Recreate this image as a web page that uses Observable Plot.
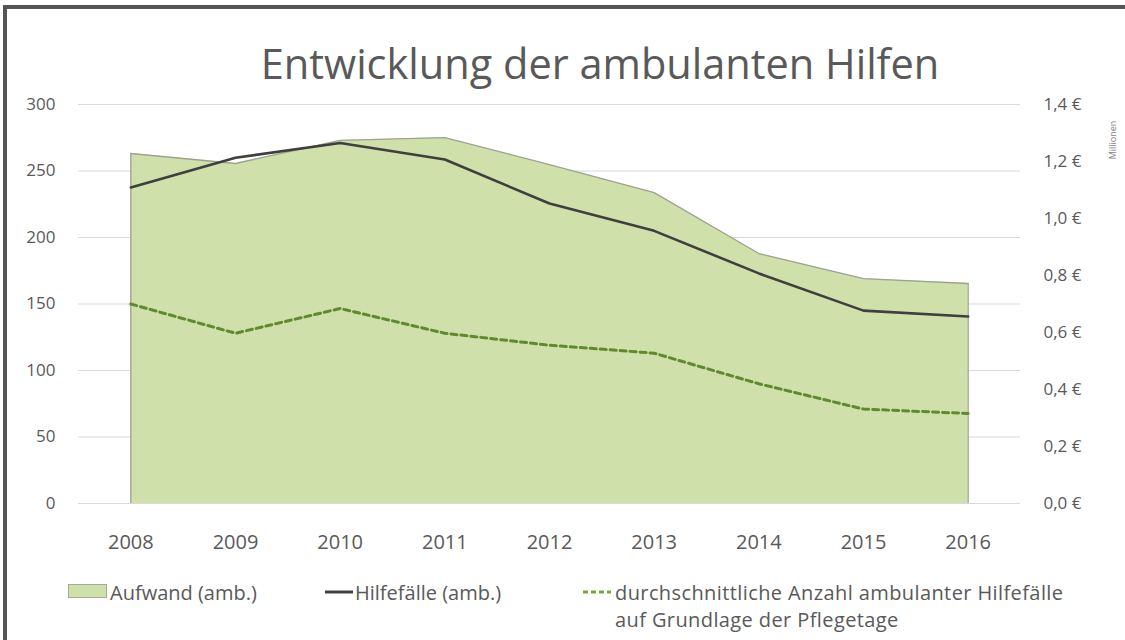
<!DOCTYPE html>
<html><head><meta charset="utf-8">
<script src="https://cdn.jsdelivr.net/npm/d3@7"></script>
<script src="https://cdn.jsdelivr.net/npm/@observablehq/plot@0.6"></script>
<style>
body{margin:0;background:#fff;font-family:"Open Sans",sans-serif;}
#wrap{position:relative;width:1125px;height:640px;overflow:hidden;background:#fff}
#frameL{position:absolute;left:3px;top:5px;width:4px;height:640px;background:#555}
#frameT{position:absolute;left:3px;top:5px;width:1125px;height:4px;background:#555}
#title{position:absolute;top:35px;left:0;width:1200px;text-align:center;font-size:41.5px;color:#595959;font-weight:400;white-space:nowrap}
#chart{position:absolute;left:0;top:88px}
.leg{position:absolute;font-size:20px;color:#595959;white-space:nowrap;line-height:27px}
#mil{position:absolute;left:1083px;top:134px;width:60px;height:12px;line-height:12px;text-align:center;font-size:9px;color:#7f7f7f;transform:rotate(-90deg);transform-origin:center;white-space:nowrap}
</style>
</head><body>
<div id="wrap">
  <div id="frameL"></div><div id="frameT"></div>
  <div id="title">Entwicklung der ambulanten Hilfen</div>
  <div id="chart"></div>
  <div id="mil">Millionen</div>
  <svg id="sw" width="1125" height="640" style="position:absolute;left:0;top:0;pointer-events:none">
    <rect x="68.5" y="584.5" width="38" height="13" fill="#cfe0aa" stroke="#a3ab96" stroke-width="1"/>
    <line x1="325" y1="592" x2="353" y2="592" stroke="#404040" stroke-width="3"/>
    <line x1="583" y1="592" x2="611" y2="592" stroke="#7aa83e" stroke-width="3" stroke-dasharray="5,3"/>
  </svg>
  <div class="leg" style="left:110px;top:579px">Aufwand (amb.)</div>
  <div class="leg" style="left:355px;top:579px">Hilfefälle (amb.)</div>
  <div class="leg" style="left:615px;top:579px;letter-spacing:0.4px">durchschnittliche Anzahl ambulanter Hilfefälle<br>auf Grundlage der Pflegetage</div>
</div>
<script>
const years = [2008, 2009, 2010, 2011, 2012, 2013, 2014, 2015, 2016];
// Aufwand (amb.) in Mio. € (right axis)
const aufwand = [1.228, 1.193, 1.274, 1.284, 1.189, 1.091, 0.877, 0.789, 0.772];
// Hilfefälle (amb.) (left axis)
const hilfefaelle = [237.6, 260, 271, 258.6, 225.6, 205, 173, 145, 140.6];
// durchschnittliche Anzahl ambulanter Hilfefälle auf Grundlage der Pflegetage (left axis)
const durchschnitt = [150, 128, 146.6, 128, 119, 113, 90, 71, 67.7];
const leftTicks = [0, 50, 100, 150, 200, 250, 300];
const rightTicks = [0, 0.2, 0.4, 0.6, 0.8, 1.0, 1.2, 1.4];
const rightMax = 1.4, leftMax = 300;
const k = leftMax / rightMax;

const data = years.map((y, i) => ({year: y, aufwand: aufwand[i], hilfe: hilfefaelle[i], avg: durchschnitt[i]}));

const chart = Plot.plot({
  width: 1125,
  height: 472,
  marginTop: 16,
  marginBottom: 57,
  marginLeft: 78,
  marginRight: 105,
  style: {fontFamily: "'Open Sans', sans-serif", color: "#595959", background: "transparent"},
  x: {domain: [2007.5, 2016.5], axis: null},
  y: {domain: [0, leftMax], axis: null},
  marks: [
    Plot.ruleY(leftTicks, {stroke: "#d9d9d9", strokeWidth: 1}),
    Plot.areaY(data, {x: "year", y: d => d.aufwand * k, fill: "#cfe0aa", stroke: null}),
    Plot.lineY(data, {x: "year", y: d => d.aufwand * k, stroke: "#9ea391", strokeWidth: 1.3}),
    Plot.ruleX([years[0], years[years.length - 1]], {y1: 0, y2: (d) => data.find(r => r.year === d).aufwand * k, stroke: "#9ea391", strokeWidth: 1.3}),
    Plot.lineY(data, {x: "year", y: "hilfe", stroke: "#3f3f3f", strokeWidth: 2.6}),
    Plot.lineY(data, {x: "year", y: "avg", stroke: "#5f8a30", strokeWidth: 3, strokeDasharray: "6,4"}),
    Plot.axisX(years, {label: null, tickSize: 0, tickPadding: 31, fontSize: 20, tickFormat: d => String(d), fill: "#595959"}),
    Plot.axisY(leftTicks, {label: null, anchor: "left", tickSize: 0, tickPadding: 23, fontSize: 17, fill: "#595959"}),
    Plot.axisY(rightTicks.map(v => v * k), {label: null, anchor: "right", tickSize: 0, tickPadding: 23, fontSize: 17, fill: "#595959",
      tickFormat: v => (v / k).toFixed(1).replace(".", ",") + " €"})
  ]
});
document.getElementById("chart").appendChild(chart);
</script>
</body></html>
